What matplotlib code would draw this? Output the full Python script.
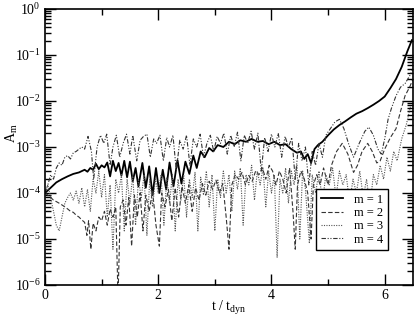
import matplotlib
matplotlib.use("Agg")
import matplotlib.pyplot as plt
from matplotlib.ticker import LogLocator, FixedLocator, NullFormatter

# ---- data ----
t1 = [0.00, 0.10, 0.20, 0.30, 0.40, 0.50, 0.60, 0.70, 0.75, 0.80, 0.85, 0.90, 0.95, 1.00, 1.05,
      1.10, 1.15, 1.20, 1.25, 1.30, 1.35, 1.40, 1.45, 1.50, 1.55, 1.60, 1.65, 1.72, 1.78, 1.84,
      1.90, 1.96, 2.02, 2.08, 2.14, 2.20, 2.27, 2.34, 2.41, 2.48, 2.55, 2.62, 2.68, 2.75, 2.82,
      2.90, 2.97, 3.05, 3.15, 3.25, 3.35, 3.45, 3.55, 3.65, 3.75, 3.85, 3.95, 4.05, 4.15, 4.25,
      4.35, 4.45, 4.52, 4.58, 4.64, 4.70, 4.76, 4.82, 4.90, 5.00, 5.10, 5.20, 5.30, 5.40, 5.50,
      5.60, 5.70, 5.80, 5.90, 6.00, 6.10, 6.20, 6.30, 6.40, 6.48]
a1 = [1.0e-4, 1.3e-4, 1.7e-4, 2.0e-4, 2.3e-4, 2.6e-4, 2.8e-4, 3.2e-4, 2.9e-4, 3.5e-4, 3.2e-4, 4.3e-4, 3.3e-4, 4.0e-4, 3.6e-4,
      4.6e-4, 2.3e-4, 5.0e-4, 3.0e-4, 4.5e-4, 2.4e-4, 5.0e-4, 2.2e-4, 4.8e-4, 1.8e-4, 3.5e-4, 1.4e-4, 4.5e-4, 1.3e-4, 3.8e-4,
      9.0e-5, 3.5e-4, 1.0e-4, 3.2e-4, 1.2e-4, 4.6e-4, 1.4e-4, 5.2e-4, 1.6e-4, 4.8e-4, 2.6e-4, 6.5e-4, 3.5e-4, 8.0e-4, 6.0e-4,
      9.5e-4, 8.0e-4, 1.1e-3, 1.0e-3, 1.3e-3, 1.15e-3, 1.4e-3, 1.3e-3, 1.5e-3, 1.3e-3, 1.35e-3, 1.15e-3, 1.3e-3, 1.1e-3, 1.15e-3,
      9.0e-4, 7.5e-4, 8.0e-4, 5.5e-4, 7.0e-4, 4.5e-4, 9.0e-4, 1.1e-3, 1.3e-3, 1.8e-3, 2.4e-3, 3.0e-3, 3.6e-3, 4.4e-3, 5.3e-3,
      6.0e-3, 7.0e-3, 8.3e-3, 1.0e-2, 1.25e-2, 1.9e-2, 3.0e-2, 5.5e-2, 1.2e-1, 2.1e-1]

t2 = [0.00, 0.05, 0.10, 0.15, 0.20, 0.25, 0.30, 0.35, 0.40, 0.45, 0.50, 0.55, 0.60, 0.65, 0.70,
      0.74, 0.77, 0.81, 0.85, 0.90, 0.95, 1.00, 1.05, 1.10, 1.15, 1.20, 1.25, 1.29, 1.33, 1.38,
      1.43, 1.48, 1.53, 1.58, 1.63, 1.68, 1.73, 1.78, 1.84, 1.90, 1.96, 2.02, 2.06, 2.12, 2.18,
      2.24, 2.30, 2.36, 2.42, 2.48, 2.54, 2.60, 2.66, 2.72, 2.78, 2.84, 2.90, 2.96, 3.02, 3.08,
      3.14, 3.20, 3.25, 3.30, 3.36, 3.42, 3.48, 3.54, 3.60, 3.66, 3.72, 3.78, 3.84, 3.90, 3.96,
      4.02, 4.08, 4.14, 4.20, 4.26, 4.32, 4.38, 4.42, 4.46, 4.52, 4.58, 4.64, 4.70, 4.74, 4.80,
      4.86, 4.92, 5.00, 5.06, 5.15, 5.25, 5.35, 5.45, 5.52, 5.60, 5.70, 5.78, 5.86, 5.92, 6.00,
      6.10, 6.20, 6.28, 6.36, 6.44, 6.50]
a2 = [1.0e-4, 9.0e-5, 8.0e-5, 7.0e-5, 6.5e-5, 6.0e-5, 5.5e-5, 5.0e-5, 4.5e-5, 4.0e-5, 3.8e-5, 3.3e-5, 3.0e-5, 2.6e-5, 2.3e-5,
      1.2e-5, 2.5e-5, 6.0e-6, 2.2e-5, 1.5e-5, 3.0e-5, 2.5e-5, 4.0e-5, 2.0e-5, 4.5e-5, 3.0e-5, 5.0e-5, 5.0e-7, 5.0e-5, 7.0e-5,
      2.0e-5, 8.0e-5, 7.0e-6, 9.0e-5, 3.0e-5, 1.0e-4, 1.5e-5, 9.0e-5, 4.0e-5, 1.1e-4, 2.0e-5, 7.0e-6, 1.0e-4, 5.0e-5, 1.2e-4,
      2.5e-5, 1.3e-4, 3.0e-5, 1.4e-4, 6.0e-5, 1.5e-4, 4.0e-5, 1.3e-4, 7.0e-5, 1.6e-4, 9.0e-5, 1.8e-4, 1.2e-4, 1.9e-4, 1.0e-4,
      1.6e-4, 3.0e-5, 6.0e-6, 1.5e-4, 2.5e-4, 2.0e-4, 2.8e-4, 1.5e-4, 2.4e-4, 1.8e-4, 3.0e-4, 2.5e-4, 3.5e-4, 2.0e-4, 4.0e-4,
      3.0e-4, 1.5e-4, 3.0e-4, 2.0e-4, 1.0e-4, 3.5e-4, 4.0e-5, 6.0e-6, 1.5e-4, 3.0e-4, 2.0e-4, 1.0e-4, 1.0e-5, 1.5e-4, 2.5e-4,
      1.5e-4, 3.5e-4, 1.5e-4, 4.0e-4, 8.0e-4, 1.2e-3, 7.0e-4, 2.8e-4, 4.0e-4, 8.0e-4, 1.2e-3, 8.0e-4, 4.5e-4, 5.0e-4, 9.0e-4,
      1.6e-3, 2.5e-3, 6.0e-3, 1.3e-2, 2.0e-2, 3.0e-2]

t3 = [0.00, 0.05, 0.10, 0.15, 0.20, 0.25, 0.30, 0.35, 0.40, 0.45, 0.50, 0.55, 0.60, 0.65, 0.70,
      0.75, 0.80, 0.85, 0.90, 0.95, 1.00, 1.05, 1.10, 1.15, 1.20, 1.25, 1.30, 1.35, 1.40, 1.45,
      1.50, 1.55, 1.60, 1.65, 1.70, 1.75, 1.80, 1.85, 1.90, 1.95, 2.00, 2.05, 2.10, 2.15, 2.20,
      2.25, 2.30, 2.35, 2.40, 2.45, 2.50, 2.55, 2.60, 2.65, 2.70, 2.75, 2.80, 2.85, 2.90, 2.95,
      3.00, 3.05, 3.10, 3.15, 3.20, 3.25, 3.30, 3.35, 3.40, 3.45, 3.50, 3.55, 3.60, 3.65, 3.70,
      3.75, 3.80, 3.85, 3.90, 3.95, 4.00, 4.05, 4.10, 4.15, 4.20, 4.25, 4.30, 4.35, 4.40, 4.45,
      4.50, 4.55, 4.60, 4.67, 4.72, 4.78, 4.84, 4.90, 4.96, 5.02, 5.08, 5.14, 5.20, 5.26, 5.32,
      5.38, 5.44, 5.50, 5.56, 5.62, 5.68, 5.74, 5.80, 5.86, 5.92, 5.98, 6.04, 6.10, 6.16, 6.22,
      6.30, 6.38, 6.46]
a3 = [1.0e-4, 1.5e-4, 8.0e-5, 4.0e-5, 2.0e-5, 1.5e-5, 3.0e-5, 6.0e-5, 8.0e-5, 1.0e-4, 7.0e-5, 1.1e-4, 6.0e-5, 1.3e-4, 5.0e-5,
      1.2e-4, 4.0e-5, 2.0e-4, 1.0e-4, 3.0e-4, 8.0e-5, 2.5e-4, 3.0e-5, 1.5e-4, 6.0e-6, 2.0e-4, 1.0e-4, 2.5e-4, 1.5e-5, 2.0e-4,
      6.0e-5, 2.5e-4, 2.0e-5, 2.0e-4, 8.0e-5, 2.5e-4, 1.2e-5, 2.0e-4, 5.0e-5, 2.0e-4, 1.0e-4, 2.5e-4, 2.0e-5, 2.2e-4, 6.0e-5,
      2.5e-4, 1.5e-5, 2.0e-4, 7.0e-5, 2.5e-4, 3.0e-5, 2.0e-4, 8.0e-5, 2.8e-4, 1.5e-5, 2.2e-4, 9.0e-5, 3.0e-4, 5.0e-5, 2.5e-4,
      1.5e-5, 2.0e-4, 8.0e-5, 3.0e-4, 1.0e-4, 2.5e-4, 4.0e-5, 3.0e-4, 1.2e-4, 3.5e-4, 2.0e-5, 2.5e-4, 1.5e-4, 4.0e-4, 7.0e-5,
      3.0e-4, 1.5e-4, 3.5e-4, 5.0e-5, 3.0e-4, 1.0e-4, 2.5e-4, 4.0e-6, 2.0e-4, 1.0e-4, 3.5e-4, 6.0e-5, 3.0e-4, 1.5e-4, 4.0e-4,
      1.0e-5, 3.0e-4, 1.2e-4, 8.0e-6, 2.5e-4, 1.0e-4, 3.0e-4, 6.0e-5, 2.5e-4, 1.5e-4, 3.5e-4, 8.0e-5, 3.0e-4, 1.5e-4, 2.5e-4,
      6.0e-5, 2.0e-4, 1.0e-4, 3.0e-4, 8.0e-5, 2.0e-4, 5.0e-5, 2.5e-4, 1.5e-4, 4.0e-4, 2.0e-4, 6.0e-4, 3.0e-4, 8.0e-4, 5.0e-4,
      1.5e-3, 3.0e-3, 8.0e-3]

t4 = [0.00, 0.05, 0.10, 0.15, 0.20, 0.25, 0.30, 0.35, 0.40, 0.45, 0.50, 0.55, 0.60, 0.65, 0.70,
      0.76, 0.82, 0.86, 0.92, 0.98, 1.04, 1.09, 1.15, 1.20, 1.26, 1.32, 1.38, 1.44, 1.50, 1.55,
      1.62, 1.68, 1.74, 1.80, 1.86, 1.92, 1.97, 2.03, 2.09, 2.15, 2.20, 2.26, 2.32, 2.38, 2.44,
      2.50, 2.56, 2.62, 2.68, 2.74, 2.80, 2.86, 2.92, 2.98, 3.04, 3.10, 3.16, 3.22, 3.28, 3.34,
      3.40, 3.46, 3.52, 3.58, 3.64, 3.70, 3.76, 3.82, 3.88, 3.94, 4.00, 4.06, 4.12, 4.18, 4.24,
      4.30, 4.36, 4.42, 4.48, 4.54, 4.60, 4.66, 4.72, 4.78, 4.84, 4.90, 4.96, 5.04, 5.12, 5.20,
      5.28, 5.36, 5.45, 5.55, 5.65, 5.72, 5.80, 5.88, 5.94, 6.00, 6.06, 6.12, 6.20, 6.28, 6.36,
      6.44, 6.50]
a4 = [1.0e-4, 1.5e-4, 2.5e-4, 2.0e-4, 3.5e-4, 4.5e-4, 4.0e-4, 6.0e-4, 6.5e-4, 5.5e-4, 7.5e-4, 8.0e-4, 9.0e-4, 1.0e-3, 9.0e-4,
      1.7e-3, 8.0e-4, 2.0e-4, 1.0e-3, 1.8e-3, 1.2e-3, 1.9e-3, 4.0e-4, 1.0e-3, 1.8e-3, 6.0e-4, 1.2e-3, 1.9e-3, 7.0e-4, 1.8e-3,
      5.0e-4, 1.4e-3, 1.7e-3, 1.9e-3, 6.0e-4, 1.5e-3, 1.2e-3, 1.8e-3, 5.0e-4, 1.6e-3, 1.0e-3, 1.8e-3, 3.0e-4, 1.4e-3, 9.0e-4,
      1.8e-3, 4.0e-4, 1.5e-3, 1.0e-3, 1.9e-3, 6.0e-4, 1.2e-3, 1.8e-3, 8.0e-4, 1.7e-3, 1.2e-3, 2.0e-3, 7.0e-4, 1.8e-3, 1.0e-3,
      2.1e-3, 5.0e-4, 1.8e-3, 1.2e-3, 2.2e-3, 9.0e-4, 2.0e-3, 3.0e-4, 1.6e-3, 8.0e-4, 1.9e-3, 1.0e-3, 2.0e-3, 6.0e-4, 1.7e-3,
      1.0e-3, 1.6e-3, 2.0e-4, 1.2e-3, 5.0e-4, 1.0e-3, 1.5e-4, 8.0e-4, 4.0e-4, 1.2e-3, 6.0e-4, 1.8e-3, 2.5e-3, 3.5e-3, 4.0e-3,
      2.5e-3, 1.2e-3, 6.0e-4, 1.2e-3, 2.2e-3, 2.7e-3, 1.8e-3, 9.0e-4, 7.0e-4, 1.5e-3, 4.0e-3, 7.0e-3, 1.3e-2, 2.0e-2, 2.4e-2,
      3.5e-2, 5.0e-2]

labels = ["m = 1", "m = 2", "m = 3", "m = 4"]
x_ticks = [0, 2, 4, 6]
x_minor = [1, 3, 5]

# ---- figure ----
plt.rcParams['font.family'] = ['Liberation Serif', 'DejaVu Serif']
plt.rcParams['mathtext.fontset'] = 'custom'
plt.rcParams['mathtext.rm'] = 'Liberation Serif'
plt.rcParams['mathtext.it'] = 'Liberation Serif'

fig = plt.figure(figsize=(4.15, 3.21), dpi=100)
ax = fig.add_axes([45/415, 1-285/321, (413-45)/415, (285-9)/321])

ax.plot(t1, a1, color='black', lw=1.3, ls='-', label=labels[0])
ax.plot(t2, a2, color='#333333', lw=0.8, ls=(0, (4, 2)), label=labels[1])
ax.plot(t3, a3, color='#555555', lw=0.8, ls=(0, (1, 1.2)), label=labels[2])
ax.plot(t4, a4, color='#333333', lw=0.8, ls=(0, (4, 1.5, 1, 1.5, 1, 1.5)), label=labels[3])

ax.set_yscale('log')
ax.set_xlim(0, 6.5)
ax.set_ylim(1e-6, 1)

ax.xaxis.set_major_locator(FixedLocator(x_ticks))
ax.xaxis.set_minor_locator(FixedLocator(x_minor))
ax.yaxis.set_major_locator(LogLocator(base=10, numticks=10))
ax.yaxis.set_minor_locator(LogLocator(base=10, subs=range(2, 10), numticks=20))
ax.yaxis.set_minor_formatter(NullFormatter())

ax.tick_params(which='both', direction='in', top=True, right=True, labelsize=10, width=1.0)
ax.tick_params(which='major', length=8, pad=3)
ax.tick_params(which='minor', length=4)
for s in ax.spines.values():
    s.set_linewidth(1.2)

ax.set_xlabel(r'$\mathrm{t\ /\ t_{dyn}}$', fontsize=10)
ax.xaxis.set_label_coords(0.5, -0.05)
ax.set_ylabel(r'$\mathrm{A_m}$', fontsize=10)
ax.yaxis.set_label_coords(-0.068, 0.55)

leg = ax.legend(loc='lower right', bbox_to_anchor=(0.932, 0.127), fontsize=9,
                frameon=True, fancybox=False, edgecolor='black', framealpha=1,
                handlelength=1.8, handletextpad=0.9, borderpad=0.35, labelspacing=0.1,
                borderaxespad=0)
leg.get_frame().set_linewidth(1.0)

fig.savefig('out.png', dpi=100)
